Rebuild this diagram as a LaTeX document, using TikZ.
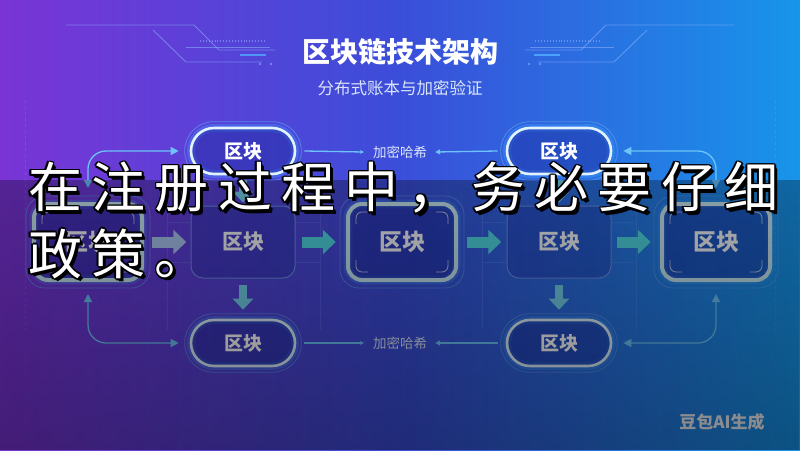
\documentclass[tikz,border=0pt]{standalone}
\usepackage{fontspec}
\setmainfont{Noto Sans CJK SC}
\usetikzlibrary{arrows.meta,calc,fadings}
\definecolor{bgL}{HTML}{7A34D6}
\definecolor{bgM}{HTML}{3B4ED9}
\definecolor{bgR}{HTML}{1795EA}
\definecolor{pillB}{HTML}{E2F2FF}
\definecolor{glowC}{HTML}{3FA0FF}
\definecolor{ringC}{HTML}{5A9CF0}
\definecolor{boxA}{HTML}{C6E6F0}
\definecolor{boxB}{HTML}{6A8CE6}
\definecolor{fillN}{HTML}{1C2A9E}
\definecolor{connC}{HTML}{6CC4F8}
\definecolor{tealA}{HTML}{50D6E2}
\definecolor{grayA}{HTML}{A8C4EE}
\definecolor{downC}{HTML}{72D0EA}
\definecolor{lblC}{HTML}{F2F4FA}
\definecolor{subC}{HTML}{DCE6FA}
\definecolor{decoL}{HTML}{8FB4FF}
\definecolor{decoB}{HTML}{4FA8FF}
\newcommand{\gp}{\hspace{9.3pt}}
\newcommand{\ovlA}{在\gp 注\gp 册\gp 过\gp 程\gp 中\gp ，\gp 务\gp 必\gp 要\gp 仔\gp 细}
\newcommand{\ovlB}{政\gp 策\gp 。}
\tikzset{
  pill/.style={rectangle, rounded corners=23pt, minimum width=104pt, minimum height=46pt,
    draw=pillB, line width=2.6pt, fill=fillN, fill opacity=0.45, text opacity=1, text=white,
    font=\bfseries\fontsize{19}{22}\selectfont,
    preaction={draw=glowC, line width=8pt, draw opacity=0.35}},
  ring/.style={draw=ringC, line width=0.8pt, opacity=0.7},
  boxa/.style={rectangle, rounded corners=14pt, minimum width=108pt, minimum height=76pt,
    draw=boxA, line width=4pt, fill=fillN, fill opacity=0.5, text opacity=1, text=lblC,
    font=\bfseries\fontsize{23}{26}\selectfont,
    preaction={draw=glowC, line width=9pt, draw opacity=0.3}},
  boxb/.style={rectangle, rounded corners=12pt, minimum width=104pt, minimum height=72pt,
    draw=boxB, line width=1pt, fill=fillN, fill opacity=0.3, text opacity=1, text=lblC,
    font=\bfseries\fontsize{21}{24}\selectfont},
  tick/.style={draw=lblC, line width=0.8pt, rounded corners=6pt, opacity=0.75},
  conn/.style={draw=connC, line width=1.3pt},
  blockh/.style={draw=#1, line width=11pt, -{Triangle[length=13pt,width=24pt]}},
  blockv/.style={draw=downC, line width=8pt, -{Triangle[length=11pt,width=20pt]}},
  hashlbl/.style={text=subC, font=\fontsize{13.5}{16}\selectfont, inner sep=0},
  deco/.style={draw=#1, line width=0.9pt, opacity=0.55},
  grid/.style={draw=decoL, line width=0.6pt, opacity=0.18},
  ovl/.style={anchor=west, inner sep=0, font=\fontsize{54}{60}\selectfont},
}
\begin{document}
\begin{tikzpicture}[x=1pt,y=-1pt]
\useasboundingbox (0,0) rectangle (800,450);
% background
\shade[left color=bgL, right color=bgM] (0,0) rectangle (400.5,450);
\shade[left color=bgM, right color=bgR] (400,0) rectangle (800,450);
% title decorations (left)
\draw[deco=decoL] (66,25) -- (194,25) -- (219,50) -- (275,50);
\draw[deco=decoL] (153,30) -- (186,62) -- (262,62);
\draw[deco=decoL] (186,47) -- (270,47);
\draw[deco=decoL, dotted, line width=1.2pt] (200,41) -- (265,41);
\draw[draw=decoB, line width=2.5pt, opacity=0.8] (240,55) -- (266,55);
\fill[decoL, opacity=0.6] (260,64) circle (1.3) (271,64) circle (1.3);
% title decorations (right)
\draw[deco=decoL] (734,25) -- (606,25) -- (581,50) -- (525,50);
\draw[deco=decoL] (647,30) -- (614,62) -- (538,62);
\draw[deco=decoL] (614,47) -- (530,47);
\draw[deco=decoL, dotted, line width=1.2pt] (600,41) -- (535,41);
\draw[draw=decoB, line width=2.5pt, opacity=0.9] (560,55) -- (534,55);
\fill[decoL, opacity=0.6] (540,64) circle (1.3) (529,64) circle (1.3);
% grid
\draw[grid, dashed] (25,100) -- (25,330);
\draw[grid, dashed] (775,100) -- (775,330);
\foreach \gx in {167,320,482,636}{\draw[grid] (\gx,196) -- (\gx,330);}
\foreach \gy in {222,262}{
  \draw[grid] (167,\gy) -- (191,\gy); \draw[grid] (295,\gy) -- (320,\gy);
  \draw[grid] (482,\gy) -- (507,\gy); \draw[grid] (611,\gy) -- (636,\gy);}
% titles
\node[text=white, font=\bfseries\fontsize{28}{32}\selectfont] (title) at (400,52) {区块链技术架构};
\node[text=subC, font=\fontsize{16.5}{20}\selectfont] (subtitle) at (400,88) {分布式账本与加密验证};
% nodes
\node[pill] (tp1) at (243,151) {区块};
\node[pill] (tp2) at (559,151) {区块};
\node[pill] (bp1) at (243,343) {区块};
\node[pill] (bp2) at (559,343) {区块};
\node[boxa] (m1) at (88,242) {区块};
\node[boxb] (m2) at (243,242) {区块};
\node[boxa] (m3) at (402,242) {区块};
\node[boxb] (m4) at (559,242) {区块};
\node[boxa] (m5) at (716,242) {区块};
\node[hashlbl] (h1) at (400,152) {加密哈希};
\node[hashlbl] (h2) at (400,343) {加密哈希};
% rings
\foreach \p in {tp1,tp2,bp1,bp2}{
  \draw[ring, rounded corners=29pt] ($(\p.north west)+(-5,-5)$) rectangle ($(\p.south east)+(5,5)$);}
\foreach \m in {m1,m3,m5}{
  \draw[ring, rounded corners=19pt] ($(\m.north west)+(-6,-6)$) rectangle ($(\m.south east)+(6,6)$);
  \draw[tick] ($(\m.north west)+(10,22)$) -- ($(\m.north west)+(10,10)$) -- ($(\m.north west)+(22,10)$);
  \draw[tick] ($(\m.north east)+(-10,22)$) -- ($(\m.north east)+(-10,10)$) -- ($(\m.north east)+(-22,10)$);
  \draw[tick] ($(\m.south west)+(10,-22)$) -- ($(\m.south west)+(10,-10)$) -- ($(\m.south west)+(22,-10)$);
  \draw[tick] ($(\m.south east)+(-10,-22)$) -- ($(\m.south east)+(-10,-10)$) -- ($(\m.south east)+(-22,-10)$);}
% hash connectors
\draw[conn, -{Stealth[length=4pt,width=4pt]}] ($(tp1.east)+(8,0)$) -- ($(h1.west)+(-9,0)$);
\draw[conn, -{Triangle[length=5pt,width=5pt]}] ($(tp2.west)+(-8,0)$) -- ($(h1.east)+(8,0)$);
\draw[conn, -{Stealth[length=4pt,width=4pt]}] ($(bp1.east)+(8,0)$) -- ($(h2.west)+(-9,0)$);
\draw[conn, -{Triangle[length=5pt,width=5pt]}] ($(bp2.west)+(-8,0)$) -- ($(h2.east)+(8,0)$);
% curved side connectors
\draw[conn, rounded corners=18pt, {Triangle[length=8pt,width=8pt]}-{Triangle[length=8pt,width=8pt]}]
  ($(m1.north)+(0,-14)$) |- ($(tp1.west)+(-11,0)$);
\draw[conn, rounded corners=18pt, {Triangle[length=8pt,width=8pt]}-{Triangle[length=8pt,width=8pt]}]
  ($(m1.south)+(0,12)$) |- ($(bp1.west)+(-11,0)$);
\draw[conn, rounded corners=18pt, {Triangle[length=8pt,width=8pt]}-{Triangle[length=8pt,width=8pt]}]
  ($(m5.north)+(0,-14)$) |- ($(tp2.east)+(11,0)$);
\draw[conn, rounded corners=18pt, {Triangle[length=8pt,width=8pt]}-{Triangle[length=8pt,width=8pt]}]
  ($(m5.south)+(0,12)$) |- ($(bp2.east)+(11,0)$);
% block arrows
\draw[blockh=grayA] ($(m1.east)!0.5!(m2.west)+(-15,0)$) -- ($(m1.east)!0.5!(m2.west)+(19,0)$);
\draw[blockh=tealA] ($(m2.east)!0.5!(m3.west)+(-19,0)$) -- ($(m2.east)!0.5!(m3.west)+(15,0)$);
\draw[blockh=tealA] ($(m3.east)!0.5!(m4.west)+(-15,0)$) -- ($(m3.east)!0.5!(m4.west)+(19,0)$);
\draw[blockh=tealA] ($(m4.east)!0.5!(m5.west)+(-19,0)$) -- ($(m4.east)!0.5!(m5.west)+(15,0)$);
\draw[blockv] ($(m2.south)+(0,6)$) -- ($(bp1.north)+(0,-9)$);
\draw[blockv] ($(m4.south)+(0,6)$) -- ($(bp2.north)+(0,-9)$);
\draw[blockv] ($(tp1.south)+(0,5)$) -- ($(m2.north)+(0,-3)$);
\draw[blockv] ($(tp2.south)+(0,5)$) -- ($(m4.north)+(0,-3)$);
% watermark
\node[text=lblC, font=\bfseries\fontsize{17}{20}\selectfont] (wm) at (722,422) {豆包AI生成};
% dark overlay band
\fill[black, opacity=0.3] (0,180) rectangle (800,450);
\fill[black, opacity=0.2, path fading=north] (0,180) rectangle (800,450);
% overlay text with black outline
\foreach \dx/\dy [count=\k] in {-1.6/0,1.6/0,0/-1.6,0/1.6,-1.2/-1.2,1.2/1.2,1.2/-1.2,-1.2/1.2,2.4/2.4,3.2/3.2}{
  \node[ovl, text=black] (sa\k) at (28+\dx,188+\dy) {\ovlA};
  \node[ovl, text=black] (sb\k) at (28+\dx,254+\dy) {\ovlB};}
\node[ovl, text=white] (ova) at (28,188) {\ovlA};
\node[ovl, text=white] (ovb) at (28,254) {\ovlB};
\end{tikzpicture}
\end{document}
